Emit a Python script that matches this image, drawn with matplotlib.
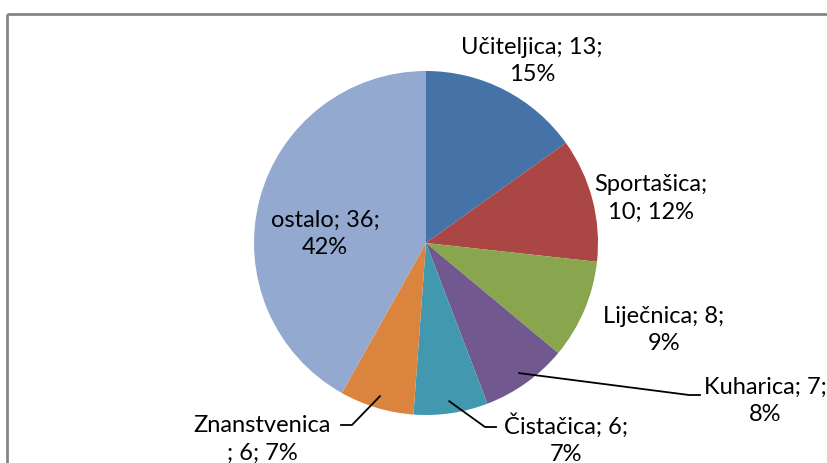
import matplotlib.pyplot as plt
import numpy as np
from matplotlib.patches import Rectangle

labels = ['Učiteljica', 'Sportašica', 'Liječnica', 'Kuharica', 'Čistačica', 'Znanstvenica', 'ostalo']
values = [13, 10, 8, 7, 6, 6, 36]
colors = ['#4572A7', '#AA4643', '#89A54E', '#71588F', '#4198AF', '#DB843D', '#93A9CF']
label_texts = ['Učiteljica; 13;\n15%', 'Sportašica;\n10; 12%', 'Liječnica; 8;\n9%',
               'Kuharica; 7;\n8%', 'Čistačica; 6;\n7%', 'Znanstvenica\n; 6; 7%',
               'ostalo; 36;\n42%']
# label centres in pixel coords (y measured from top)
label_pos = [(532, 61), (651, 198), (664, 330), (765, 401), (566, 439), (262, 439), (325, 234)]
# leader line elbows (None = no leader)
leaders = [None, None, None, (689, 395), (485, 427), (352, 425), None]

W, H = 828, 463
fig = plt.figure(figsize=(W / 100, H / 100), dpi=100)
ax = fig.add_axes([0, 0, 1, 1])

cx, cy, r = 426, H - 243, 172
ax.pie(values, colors=colors, startangle=90, counterclock=False,
       center=(cx, cy), radius=r, wedgeprops=dict(linewidth=0), frame=True)
ax.set_xlim(0, W)
ax.set_ylim(0, H)
ax.set_aspect('equal')
ax.axis('off')

total = sum(values)
cum = np.cumsum([0] + values)
for i, txt in enumerate(label_texts):
    x, y = label_pos[i]
    ax.text(x, H - y, txt, ha='center', va='center', fontsize=17, family='Lato',
            linespacing=1.4, color='black')
    if leaders[i] is not None:
        mid = (cum[i] + values[i] / 2) / total * 2 * np.pi
        sx = cx + r * 0.93 * np.sin(mid)
        sy = cy + r * 0.93 * np.cos(mid)
        ex, ey = leaders[i]
        tail = 11 if ex > cx else -11
        ax.plot([sx, ex, ex + tail], [sy, H - ey, H - ey], color='black', lw=1.3)

fig.patches.append(Rectangle((7 / W, 1 - 14 / H), 2, -2, transform=fig.transFigure,
                             fill=False, edgecolor='#868686', lw=2))
fig.savefig('out.png', dpi=100)
